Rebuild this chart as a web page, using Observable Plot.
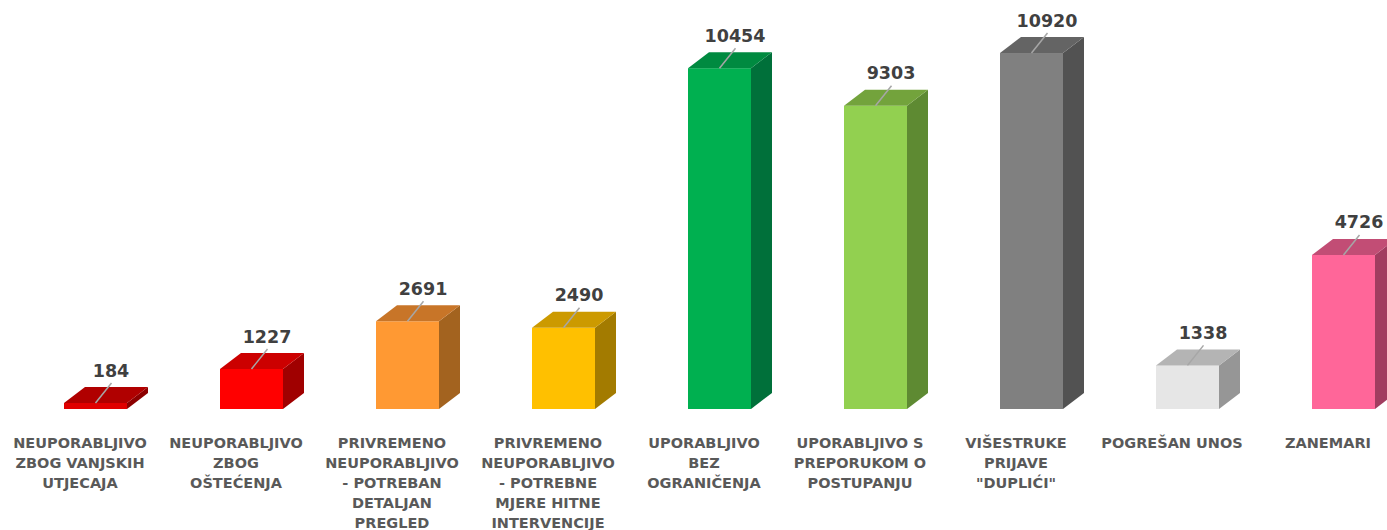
<!DOCTYPE html>
<html>
<head>
<meta charset="utf-8">
<script src="https://cdn.jsdelivr.net/npm/d3@7"></script>
<script src="https://cdn.jsdelivr.net/npm/@observablehq/plot@0.6"></script>
<style>
  html, body { margin: 0; padding: 0; background: #ffffff; }
  #chart svg { display: block; }
</style>
</head>
<body>
<div id="chart"></div>
<script>
// ---- data ----
const categories = [
  "NEUPORABLJIVO ZBOG VANJSKIH UTJECAJA",
  "NEUPORABLJIVO ZBOG OŠTEĆENJA",
  "PRIVREMENO NEUPORABLJIVO - POTREBAN DETALJAN PREGLED",
  "PRIVREMENO NEUPORABLJIVO - POTREBNE MJERE HITNE INTERVENCIJE",
  "UPORABLJIVO BEZ OGRANIČENJA",
  "UPORABLJIVO S PREPORUKOM O POSTUPANJU",
  "VIŠESTRUKE PRIJAVE \"DUPLIĆI\"",
  "POGREŠAN UNOS",
  "ZANEMARI"
];
const values = [184, 1227, 2691, 2490, 10454, 9303, 10920, 1338, 4726];
const tickLabels = [
  "NEUPORABLJIVO\nZBOG VANJSKIH\nUTJECAJA",
  "NEUPORABLJIVO\nZBOG\nOŠTEĆENJA",
  "PRIVREMENO\nNEUPORABLJIVO\n- POTREBAN\nDETALJAN\nPREGLED",
  "PRIVREMENO\nNEUPORABLJIVO\n- POTREBNE\nMJERE HITNE\nINTERVENCIJE",
  "UPORABLJIVO\nBEZ\nOGRANIČENJA",
  "UPORABLJIVO S\nPREPORUKOM O\nPOSTUPANJU",
  "VIŠESTRUKE\nPRIJAVE\n\"DUPLIĆI\"",
  "POGREŠAN UNOS",
  "ZANEMARI"
];
const frontColors = ["#E00000", "#FF0000", "#FF9933", "#FFC000", "#00B050", "#92D050", "#808080", "#E6E6E6", "#FF6699"];
const topColors   = ["#B00000", "#CC0000", "#C87528", "#CC9A00", "#008A40", "#73A33C", "#646464", "#B4B4B4", "#C24D75"];
const sideColors  = ["#8C0000", "#A00000", "#A3631F", "#A37B00", "#00703A", "#5E8A32", "#525252", "#969696", "#A13D60"];

const data = categories.map((c, i) => ({
  category: c,
  value: values[i],
  front: frontColors[i],
  top: topColors[i],
  side: sideColors[i]
}));
const labelOf = new Map(categories.map((c, i) => [c, tickLabels[i]]));

// ---- 3D extrusion drawn from the bar geometry computed by Plot ----
const DX = 21, DY = 16;
const NS = "http://www.w3.org/2000/svg";
function poly(points, fill) {
  const p = document.createElementNS(NS, "polygon");
  p.setAttribute("points", points.map(q => q.join(",")).join(" "));
  p.setAttribute("fill", fill);
  return p;
}
function bar3d(index, scales, vals, dims, ctx, next) {
  const g = next(index, scales, vals, dims, ctx);
  const faces = document.createElementNS(NS, "g");
  const leaders = document.createElementNS(NS, "g");
  g.querySelectorAll("rect").forEach((r, k) => {
    const d = data[index[k]];
    const x = +r.getAttribute("x"), y = +r.getAttribute("y");
    const w = +r.getAttribute("width"), h = +r.getAttribute("height");
    const x2 = x + w, yb = y + h;
    faces.appendChild(poly([[x2, y], [x2 + DX, y - DY], [x2 + DX, yb - DY], [x2, yb]], d.side));
    faces.appendChild(poly([[x, y], [x + DX, y - DY], [x2 + DX, y - DY], [x2, y]], d.top));
    const l = document.createElementNS(NS, "line");
    const cx = x + w / 2;
    l.setAttribute("x1", cx); l.setAttribute("y1", y);
    l.setAttribute("x2", cx + 16); l.setAttribute("y2", y - 20);
    l.setAttribute("stroke", "#A6A6A6");
    l.setAttribute("stroke-width", 1.5);
    leaders.appendChild(l);
  });
  g.appendChild(faces);
  g.appendChild(leaders);
  return g;
}

const chart = Plot.plot({
  width: 1387,
  height: 530,
  marginTop: 18,
  marginBottom: 121,
  marginLeft: 63,
  marginRight: 12,
  style: { fontFamily: "'DejaVu Sans', sans-serif", background: "#ffffff" },
  x: { type: "band", domain: categories, paddingInner: 0.5964, paddingOuter: 0, label: null },
  y: { domain: [0, 11994], axis: null },
  marks: [
    Plot.barY(data, { x: "category", y: "value", fill: "front", render: bar3d }),
    Plot.text(data, {
      x: "category", y: "value", text: d => String(d.value),
      dx: 15, dy: -27, lineAnchor: "bottom",
      fontSize: 17.5, fontWeight: "bold", fill: "#404040"
    }),
    Plot.axisX({
      tickSize: 0, tickPadding: 24, dx: -16,
      tickFormat: c => labelOf.get(c),
      fontSize: 14.5, fontWeight: "bold", lineHeight: 1.38,
      fill: "#595959", label: null
    })
  ]
});
document.getElementById("chart").appendChild(chart);
</script>
</body>
</html>
